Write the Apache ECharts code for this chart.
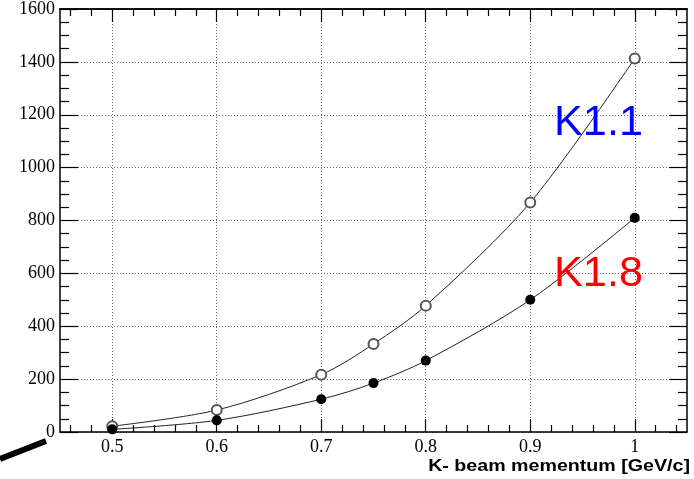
<!DOCTYPE html>
<html>
<head>
<meta charset="utf-8">
<script src="https://cdn.jsdelivr.net/npm/echarts@6/dist/echarts.min.js"></script>
<style>
  html, body { margin: 0; padding: 0; background: #fff; }
  #chart { width: 694px; height: 479px; }
</style>
</head>
<body>
<div id="chart"></div>
<script>
// momentum points (GeV/c)
const momenta = [0.5, 0.6, 0.7, 0.75, 0.8, 0.9, 1.0]
// yields
const k11Values = [22, 83, 217, 333, 478, 868, 1413]
const k18Values = [10, 44, 124, 185, 270, 500, 810]
// axis ticks
const xMajorTicks = [0.5, 0.6, 0.7, 0.8, 0.9, 1.0]
const xMinorTicks = []
for (let i = 0; i <= 29; i++) {
  const v = Math.round((0.46 + i * 0.02) * 100) / 100
  if (!xMajorTicks.includes(v)) xMinorTicks.push(v)
}
const yTickStep = 200

const chart = echarts.init(document.getElementById('chart'))

const labelFont = {
  color: '#000',
  fontFamily: 'Liberation Serif',
  fontSize: 18
}
const axisLineStyle = { color: '#000', width: 1.5 }
const gridLineStyle = { color: '#666', width: 1, type: [1, 2] }

// build an x axis (bottom or top) with either the major or minor tick set
const makeXAxis = (position, ticks, len, withLabels, withGrid) => ({
  type: 'value',
  position,
  min: 0.45,
  max: 1.05,
  axisLine: { show: withLabels || position === 'top', lineStyle: axisLineStyle, onZero: false },
  axisTick: { show: true, inside: true, length: len, customValues: ticks, lineStyle: { color: '#000', width: 1.2 } },
  axisLabel: withLabels
    ? { show: true, customValues: ticks, margin: 6, ...labelFont, formatter: v => String(Math.round(v * 10) / 10) }
    : { show: false },
  splitLine: { show: withGrid, lineStyle: gridLineStyle }
})

const makeYAxis = (position, withLabels) => ({
  type: 'value',
  position,
  min: 0,
  max: 1600,
  interval: yTickStep,
  axisLine: { show: true, lineStyle: axisLineStyle },
  axisTick: { show: true, inside: true, length: 18, lineStyle: { color: '#000', width: 1.2 } },
  minorTick: { show: true, splitNumber: 4, length: 9, lineStyle: { color: '#000', width: 1.2 } },
  axisLabel: withLabels ? { show: true, margin: 5, ...labelFont, formatter: v => String(v) } : { show: false },
  splitLine: { show: withLabels, lineStyle: gridLineStyle }
})

const option = {
  animation: false,
  backgroundColor: '#fff',
  grid: { left: 60, right: 7, top: 9, bottom: 47, containLabel: false },
  xAxis: [
    makeXAxis('bottom', xMajorTicks, 13, true, true),
    makeXAxis('bottom', xMinorTicks, 7, false, false),
    makeXAxis('top', xMajorTicks, 13, false, false),
    makeXAxis('top', xMinorTicks, 7, false, false)
  ],
  yAxis: [
    makeYAxis('left', true),
    makeYAxis('right', false)
  ],
  series: [
    {
      name: 'K1.1',
      type: 'line',
      xAxisIndex: 0,
      yAxisIndex: 0,
      smooth: 0.3,
      data: momenta.map((m, i) => [m, k11Values[i]]),
      symbol: 'emptyCircle',
      symbolSize: 10,
      lineStyle: { color: '#222', width: 1 },
      itemStyle: { color: '#555', borderWidth: 1 },
      z: 3
    },
    {
      name: 'K1.8',
      type: 'line',
      xAxisIndex: 0,
      yAxisIndex: 0,
      smooth: 0.3,
      data: momenta.map((m, i) => [m, k18Values[i]]),
      symbol: 'circle',
      symbolSize: 10,
      lineStyle: { color: '#222', width: 1 },
      itemStyle: { color: '#000' },
      z: 3
    }
  ],
  graphic: [
    {
      type: 'text',
      x: 554,
      y: 102,
      scaleX: 1.03,
      style: { x: 0, y: 0, text: 'K1.1', fill: '#0000ff', font: '42px "Liberation Sans"', verticalAlign: 'top' },
      z: 10
    },
    {
      type: 'text',
      x: 554,
      y: 253,
      scaleX: 1.03,
      style: { x: 0, y: 0, text: 'K1.8', fill: '#ff0000', font: '42px "Liberation Sans"', verticalAlign: 'top' },
      z: 10
    },
    {
      type: 'text',
      x: 690,
      y: 458,
      scaleX: 1.19,
      style: { x: 0, y: 0, text: 'K- beam mementum [GeV/c]', fill: '#000', font: 'bold 16.5px "Liberation Sans"', align: 'right', verticalAlign: 'top' },
      z: 10
    },
    {
      type: 'line',
      shape: { x1: 0, y1: 459, x2: 46, y2: 441 },
      style: { stroke: '#000', lineWidth: 6 },
      z: 10
    }
  ]
}

chart.setOption(option)
</script>
</body>
</html>
